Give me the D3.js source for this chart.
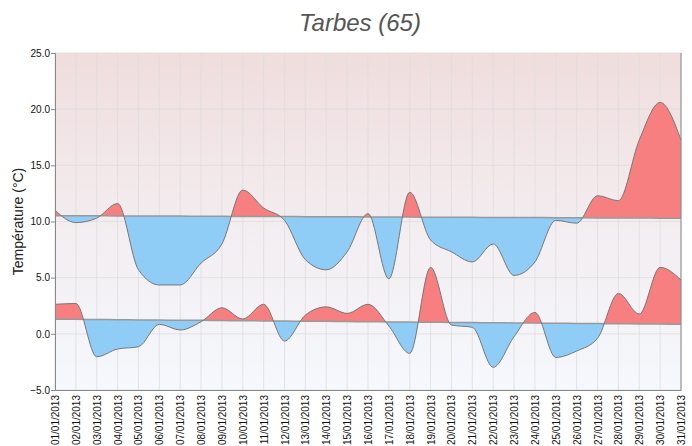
<!DOCTYPE html>
<html>
<head>
<meta charset="utf-8">
<script src="https://cdn.jsdelivr.net/npm/d3@7/dist/d3.min.js"></script>
<style>
body { margin: 0; background: #fff; }
text { font-family: "Liberation Sans", Arial, sans-serif; }
</style>
</head>
<body>
<svg width="692" height="446"></svg>
<script>
var days = ["01/01/2013","02/01/2013","03/01/2013","04/01/2013","05/01/2013","06/01/2013","07/01/2013","08/01/2013",
  "09/01/2013","10/01/2013","11/01/2013","12/01/2013","13/01/2013","14/01/2013","15/01/2013","16/01/2013",
  "17/01/2013","18/01/2013","19/01/2013","20/01/2013","21/01/2013","22/01/2013","23/01/2013","24/01/2013",
  "25/01/2013","26/01/2013","27/01/2013","28/01/2013","29/01/2013","30/01/2013","31/01/2013"];

// temperatures max relevees
var tMax = [11.0, 9.9, 10.3, 11.6, 5.7, 4.35, 4.35, 6.3, 8.0, 12.8, 11.2, 10.1, 6.6, 5.7, 7.3, 10.7,
  4.9, 12.6, 8.35, 7.3, 6.4, 8.0, 5.2, 6.4, 10.1, 9.85, 12.3, 11.85, 17.25, 20.6, 17.25];
var normMax = [10.52, 10.51, 10.51, 10.50, 10.49, 10.48, 10.48, 10.47, 10.46, 10.45, 10.45, 10.44, 10.43, 10.42, 10.42, 10.41,
  10.40, 10.39, 10.38, 10.38, 10.37, 10.36, 10.35, 10.35, 10.34, 10.33, 10.32, 10.32, 10.31, 10.30, 10.29];

// temperatures min relevees
var tMin = [2.63, 2.7, -2.04, -1.35, -1.15, 0.85, 0.34, 1.08, 2.32, 1.32, 2.63, -0.64, 1.67, 2.4, 1.82, 2.63,
  0.7, -1.74, 5.92, 0.78, 0.58, -2.98, -0.25, 1.91, -2.1, -1.53, -0.4, 3.6, 1.76, 5.92, 4.8];
var normMin = [1.30, 1.29, 1.27, 1.26, 1.24, 1.23, 1.21, 1.20, 1.18, 1.17, 1.15, 1.14, 1.12, 1.11, 1.09, 1.08,
  1.06, 1.05, 1.03, 1.02, 1.00, 0.99, 0.97, 0.96, 0.94, 0.93, 0.91, 0.90, 0.88, 0.87, 0.85];

var yTicks = [-5, 0, 5, 10, 15, 20, 25];

var pLeft = 55, pRight = 681, pTop = 53, pBottom = 390;

var svg = d3.select('svg');

var x = d3.scalePoint().domain(days).range([pLeft, pRight]);
var y = d3.scaleLinear().domain([-5, 25]).range([pBottom, pTop]);

var defs = svg.append('defs');
var grad = defs.append('linearGradient')
  .attr('id', 'bg').attr('x1', 0).attr('y1', 0).attr('x2', 0).attr('y2', 1);
grad.append('stop').attr('offset', '0%').attr('stop-color', '#f0dddd');
grad.append('stop').attr('offset', '55%').attr('stop-color', '#f3eef1');
grad.append('stop').attr('offset', '100%').attr('stop-color', '#f5f8fd');

svg.append('rect')
  .attr('x', pLeft).attr('y', pTop)
  .attr('width', pRight - pLeft).attr('height', pBottom - pTop)
  .attr('fill', 'url(#bg)');

// grille
svg.append('g').selectAll('line')
  .data(days).enter().append('line')
  .attr('x1', function(d){ return x(d); }).attr('x2', function(d){ return x(d); })
  .attr('y1', pTop).attr('y2', pBottom)
  .attr('stroke', '#ddd').attr('stroke-opacity', 0.8);

svg.append('g').selectAll('line')
  .data(yTicks).enter().append('line')
  .attr('x1', pLeft).attr('x2', pRight)
  .attr('y1', function(d){ return y(d); }).attr('y2', function(d){ return y(d); })
  .attr('stroke', '#ddd').attr('stroke-opacity', 0.8);

function drawSeries(name, actual, normal) {
  var curve = d3.curveMonotoneX;
  var idx = d3.range(days.length);

  var above = d3.area().curve(curve)
    .x(function(i){ return x(days[i]); })
    .y0(function(i){ return y(normal[i]); })
    .y1(pTop);
  var below = d3.area().curve(curve)
    .x(function(i){ return x(days[i]); })
    .y0(function(i){ return y(normal[i]); })
    .y1(pBottom);

  defs.append('clipPath').attr('id', name + 'Up').append('path').attr('d', above(idx));
  defs.append('clipPath').attr('id', name + 'Down').append('path').attr('d', below(idx));

  var band = d3.area().curve(curve)
    .x(function(i){ return x(days[i]); })
    .y0(function(i){ return y(normal[i]); })
    .y1(function(i){ return y(actual[i]); });

  svg.append('path')
    .attr('d', band(idx))
    .attr('fill', '#f77f7f')
    .attr('clip-path', 'url(#' + name + 'Up)');
  svg.append('path')
    .attr('d', band(idx))
    .attr('fill', '#8fcdf6')
    .attr('clip-path', 'url(#' + name + 'Down)');

  var line = d3.line().curve(curve)
    .x(function(i){ return x(days[i]); });

  svg.append('path')
    .attr('d', line.y(function(i){ return y(normal[i]); })(idx))
    .attr('fill', 'none')
    .attr('stroke', '#999')
    .attr('stroke-width', 1.5);
  svg.append('path')
    .attr('d', line.y(function(i){ return y(actual[i]); })(idx))
    .attr('fill', 'none')
    .attr('stroke', '#777')
    .attr('stroke-width', 1);
}

drawSeries('max', tMax, normMax);
drawSeries('min', tMin, normMin);

// bord droit
svg.append('line')
  .attr('x1', pRight).attr('x2', pRight).attr('y1', pTop).attr('y2', pBottom)
  .attr('stroke', '#888');

var yAxis = d3.axisLeft(y).tickValues(yTicks).tickFormat(d3.format('.1f')).tickSize(4).tickPadding(1);
var gy = svg.append('g')
  .attr('transform', 'translate(' + pLeft + ',0)')
  .call(yAxis);
gy.select('.domain').attr('stroke', '#888');
gy.selectAll('.tick line').attr('stroke', '#888');
gy.selectAll('text').attr('font-size', 10).attr('fill', '#111')
  .attr('font-family', '"Liberation Sans", Arial, sans-serif');

var xAxis = d3.axisBottom(x).tickSize(0);
var gx = svg.append('g')
  .attr('transform', 'translate(0,' + pBottom + ')')
  .call(xAxis);
gx.select('.domain').attr('stroke', '#888');
gx.selectAll('text')
  .attr('font-size', 10).attr('fill', '#111')
  .attr('font-family', '"Liberation Sans", Arial, sans-serif')
  .attr('transform', 'rotate(-90)')
  .attr('text-anchor', 'end')
  .attr('x', -5).attr('y', 0).attr('dy', '0.35em');

svg.append('text')
  .attr('transform', 'translate(23,' + ((pTop + pBottom) / 2) + ')rotate(-90)')
  .attr('text-anchor', 'middle')
  .attr('font-size', 14)
  .attr('fill', '#222')
  .text('Température (°C)');

svg.append('text')
  .attr('x', 360).attr('y', 31)
  .attr('text-anchor', 'middle')
  .attr('font-size', 24)
  .attr('font-style', 'italic')
  .attr('fill', '#555')
  .text('Tarbes (65)');
</script>
</body>
</html>
